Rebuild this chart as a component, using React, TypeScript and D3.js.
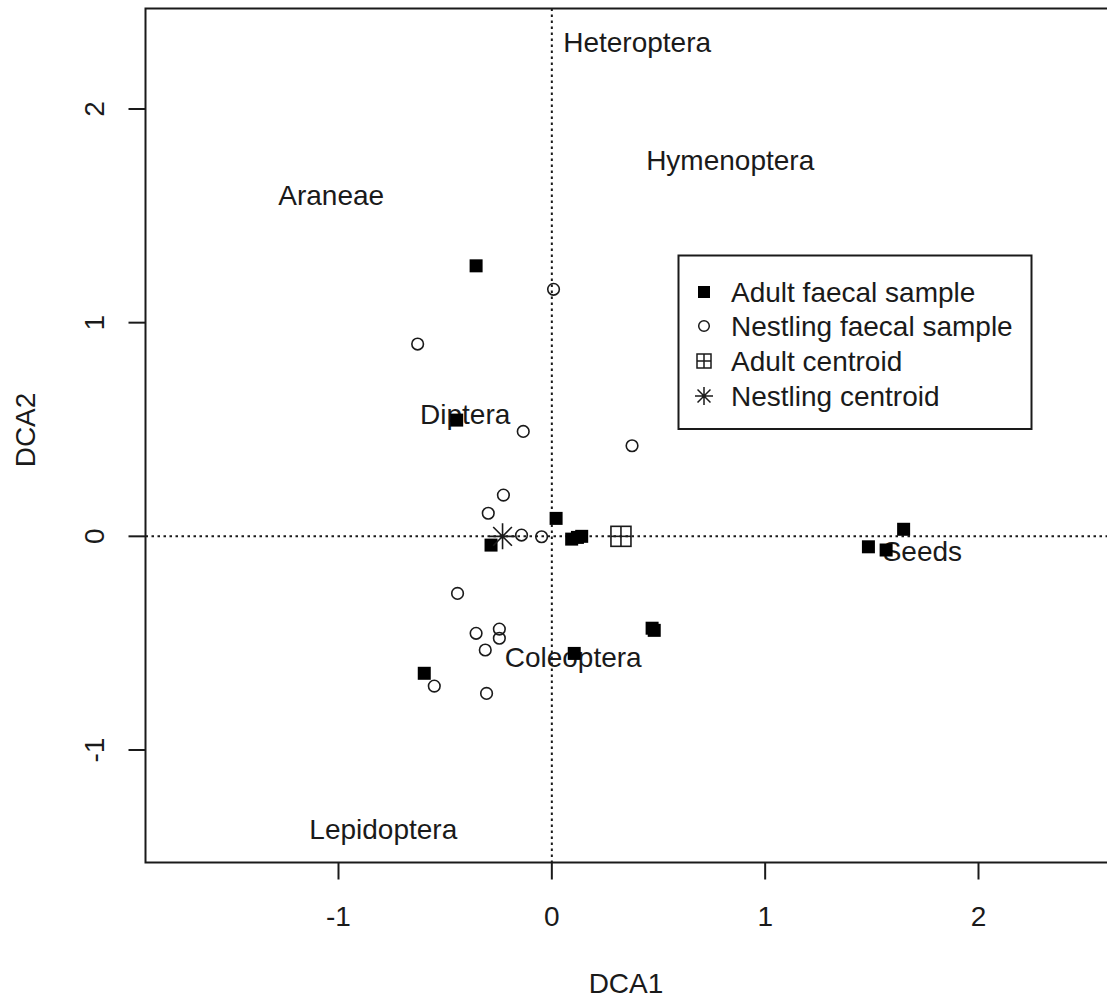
import React from "react";
import * as d3 from "d3";

const adultX = [-0.355, -0.446, 0.020, -0.285, 0.093, 0.12, 0.14, 0.47, 0.48, 0.105, -0.598, 1.649, 1.484, 1.567];
const adultY = [1.266, 0.544, 0.084, -0.041, -0.013, -0.005, 0.0, -0.43, -0.44, -0.548, -0.641, 0.033, -0.049, -0.064];

const nestX = [0.008, -0.629, -0.134, 0.376, -0.227, -0.298, -0.142, -0.048, -0.442, -0.355, -0.246, -0.246, -0.312, -0.551, -0.306];
const nestY = [1.156, 0.900, 0.491, 0.424, 0.193, 0.108, 0.006, -0.002, -0.267, -0.454, -0.434, -0.477, -0.532, -0.701, -0.735];

const speciesNames = ["Heteroptera", "Hymenoptera", "Araneae", "Diptera", "Seeds", "Coleoptera", "Lepidoptera"];
const speciesX = [0.40, 0.836, -1.034, -0.406, 1.737, 0.10, -0.79];
const speciesY = [2.313, 1.761, 1.593, 0.568, -0.069, -0.565, -1.374];

const adultCentroid = [0.324, 0];
const nestCentroid = [-0.231, 0];

const xTicks = [-1, 0, 1, 2];
const yTicks = [-1, 0, 1, 2];

const legendLabels = ["Adult faecal sample", "Nestling faecal sample", "Adult centroid", "Nestling centroid"];

const W = 1107;
const H = 1000;
const FONT = "Liberation Sans, Arial, sans-serif";
const FS = 28;
const INK = "#1a1a1a";

export default function App() {
  const x = d3.scaleLinear().domain([-1, 2]).range([338.5, 978.5]);
  const y = d3.scaleLinear().domain([-1, 2]).range([750, 109]);
  const left = 145.5, top = 8.5, bottom = 862.5, right = W + 10;

  const sq = 13;
  const cr = 5.8;

  const cross = (cx: number, cy: number, s: number) => {
    const d = s / 2;
    const dd = d * 0.72;
    return `M${cx - d},${cy}L${cx + d},${cy}M${cx},${cy - d}L${cx},${cy + d}M${cx - dd},${cy - dd}L${cx + dd},${cy + dd}M${cx - dd},${cy + dd}L${cx + dd},${cy - dd}`;
  };

  const legX = 678.5, legY = 255.5, legW = 353, legH = 173.5;
  const legRows = [292, 326, 361, 396];
  const symX = 704;

  return (
    <svg width={W} height={H} style={{ position: "absolute", left: 0, top: 0, background: "#fff" }} fontFamily={FONT}>
      <rect x={0} y={0} width={W} height={H} fill="#fff" />
      {/* dotted zero lines */}
      <line x1={left} x2={right} y1={y(0)} y2={y(0)} stroke={INK} strokeWidth={2} strokeDasharray="2.5,3.5" />
      <line x1={x(0)} x2={x(0)} y1={top} y2={bottom} stroke={INK} strokeWidth={2} strokeDasharray="2.5,3.5" />

      {/* plot frame */}
      <rect x={left} y={top} width={right - left} height={bottom - top} fill="none" stroke={INK} strokeWidth={2} />

      {/* axis ticks */}
      {xTicks.map((t) => (
        <g key={"xt" + t}>
          <line x1={x(t)} x2={x(t)} y1={bottom} y2={bottom + 17} stroke={INK} strokeWidth={2} />
          <text x={x(t)} y={916} textAnchor="middle" dominantBaseline="central" fontSize={FS} fill={INK}>{t}</text>
        </g>
      ))}
      {yTicks.map((t) => (
        <g key={"yt" + t}>
          <line x1={left - 17} x2={left} y1={y(t)} y2={y(t)} stroke={INK} strokeWidth={2} />
          <text transform={`translate(94,${y(t)}) rotate(-90)`} textAnchor="middle" dominantBaseline="central" fontSize={FS} fill={INK}>{t}</text>
        </g>
      ))}
      <text x={626} y={993} textAnchor="middle" fontSize={FS} fill={INK}>DCA1</text>
      <text transform={`translate(25,430) rotate(-90)`} textAnchor="middle" dominantBaseline="central" fontSize={FS} fill={INK}>DCA2</text>

      {/* species labels */}
      {speciesNames.map((n, i) => (
        <text key={n} x={x(speciesX[i])} y={y(speciesY[i])} textAnchor="middle" dominantBaseline="central" fontSize={FS} fill={INK}>{n}</text>
      ))}

      {/* nestling samples */}
      {nestX.map((v, i) => (
        <circle key={"n" + i} cx={x(v)} cy={y(nestY[i])} r={cr} fill="none" stroke={INK} strokeWidth={1.6} />
      ))}
      {/* adult samples */}
      {adultX.map((v, i) => (
        <rect key={"a" + i} x={x(v) - sq / 2} y={y(adultY[i]) - sq / 2} width={sq} height={sq} fill="#000" />
      ))}

      {/* centroids */}
      <g stroke={INK} strokeWidth={1.6} fill="none">
        <rect x={x(adultCentroid[0]) - 10} y={y(adultCentroid[1]) - 10} width={20} height={20} />
        <line x1={x(adultCentroid[0])} x2={x(adultCentroid[0])} y1={y(adultCentroid[1]) - 10} y2={y(adultCentroid[1]) + 10} />
        <line x1={x(adultCentroid[0]) - 10} x2={x(adultCentroid[0]) + 10} y1={y(adultCentroid[1])} y2={y(adultCentroid[1])} />
        <path d={cross(x(nestCentroid[0]), y(nestCentroid[1]), 26)} />
      </g>

      {/* legend */}
      <rect x={legX} y={legY} width={legW} height={legH} fill="#fff" stroke={INK} strokeWidth={2} />
      <rect x={symX - 6} y={legRows[0] - 6} width={12} height={12} fill="#000" />
      <circle cx={symX} cy={legRows[1]} r={5.3} fill="none" stroke={INK} strokeWidth={1.5} />
      <g stroke={INK} strokeWidth={1.5} fill="none">
        <rect x={symX - 7} y={legRows[2] - 7} width={14} height={14} />
        <line x1={symX} x2={symX} y1={legRows[2] - 7} y2={legRows[2] + 7} />
        <line x1={symX - 7} x2={symX + 7} y1={legRows[2]} y2={legRows[2]} />
        <path d={cross(symX, legRows[3], 18)} />
      </g>
      {legendLabels.map((l, i) => (
        <text key={l} x={731} y={legRows[i]} dominantBaseline="central" fontSize={FS} fill={INK}>{l}</text>
      ))}
    </svg>
  );
}
